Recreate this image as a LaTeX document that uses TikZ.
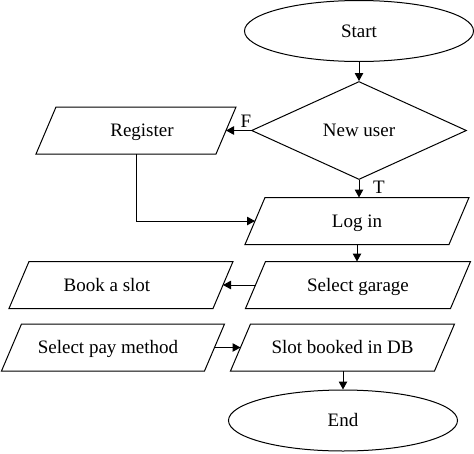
\documentclass[tikz,border=0pt]{standalone}
\usepackage{fontspec}
\setmainfont{Liberation Serif}
\usetikzlibrary{shapes.geometric,arrows.meta}
\tikzset{
  base/.style={font=\fontsize{19}{22}\selectfont, inner sep=0pt, line width=1pt, text height=12.5pt, text depth=0pt},
  term/.style={base, ellipse, draw, minimum width=229pt, minimum height=61pt},
  dec/.style={base, diamond, draw, aspect=2.2, minimum width=215pt, minimum height=98pt},
  io/.style={base, rectangle, minimum height=46pt},
  arr/.style={line width=1pt, -{Triangle[length=8pt,width=8.5pt]}},
  lbl/.style={font=\fontsize{19}{22}\selectfont, inner sep=0pt}
}
\newcommand\drawio[1]{\draw[line width=1pt, line join=miter]
  ([xshift=10pt]#1.north west) -- ([xshift=10pt]#1.north east) --
  ([xshift=-10pt]#1.south east) -- ([xshift=-10pt]#1.south west) -- cycle;}
\begin{document}
\begin{tikzpicture}[x=1pt,y=-1pt]
\useasboundingbox (0,0) rectangle (474,453);
\node[term] (start) at (359,31) {Start};
\node[dec] (newuser) at (359,130.5) {New user};
\node[io, minimum width=179pt] (register) at (136,130.5) {\hspace*{12pt}Register};
\node[io, minimum width=203pt] (login) at (357,221) {Log in};
\node[io, minimum width=204pt] (garage) at (358,285) {Select garage};
\node[io, minimum width=203pt] (book) at (121,285) {\hspace*{-28pt}Book a slot};
\node[io, minimum width=202pt] (pay) at (113,347.5) {\hspace*{-10pt}Select pay method};
\node[io, minimum width=203pt] (booked) at (342.5,347.5) {Slot booked in DB};
\node[term] (end) at (343,420.5) {End};
\drawio{register}
\drawio{login}
\drawio{garage}
\drawio{book}
\drawio{pay}
\drawio{booked}
\draw[arr] (start.south) -- (newuser.north);
\draw[arr] (newuser.west) -- (register.east);
\node[lbl] (flabel) at (246,121) {F};
\draw[arr] (newuser.south) -- (newuser.south |- login.north);
\node[lbl] (tlabel) at (379,187) {T};
\draw[arr] (register.south) |- (login.west);
\draw[arr] (login.south) -- (login.south |- garage.north);
\draw[arr] (garage.west) -- (book.east);
\draw[arr] (pay.east) -- (booked.west);
\draw[arr] (end.north |- booked.south) -- (end.north);
\end{tikzpicture}
\end{document}
